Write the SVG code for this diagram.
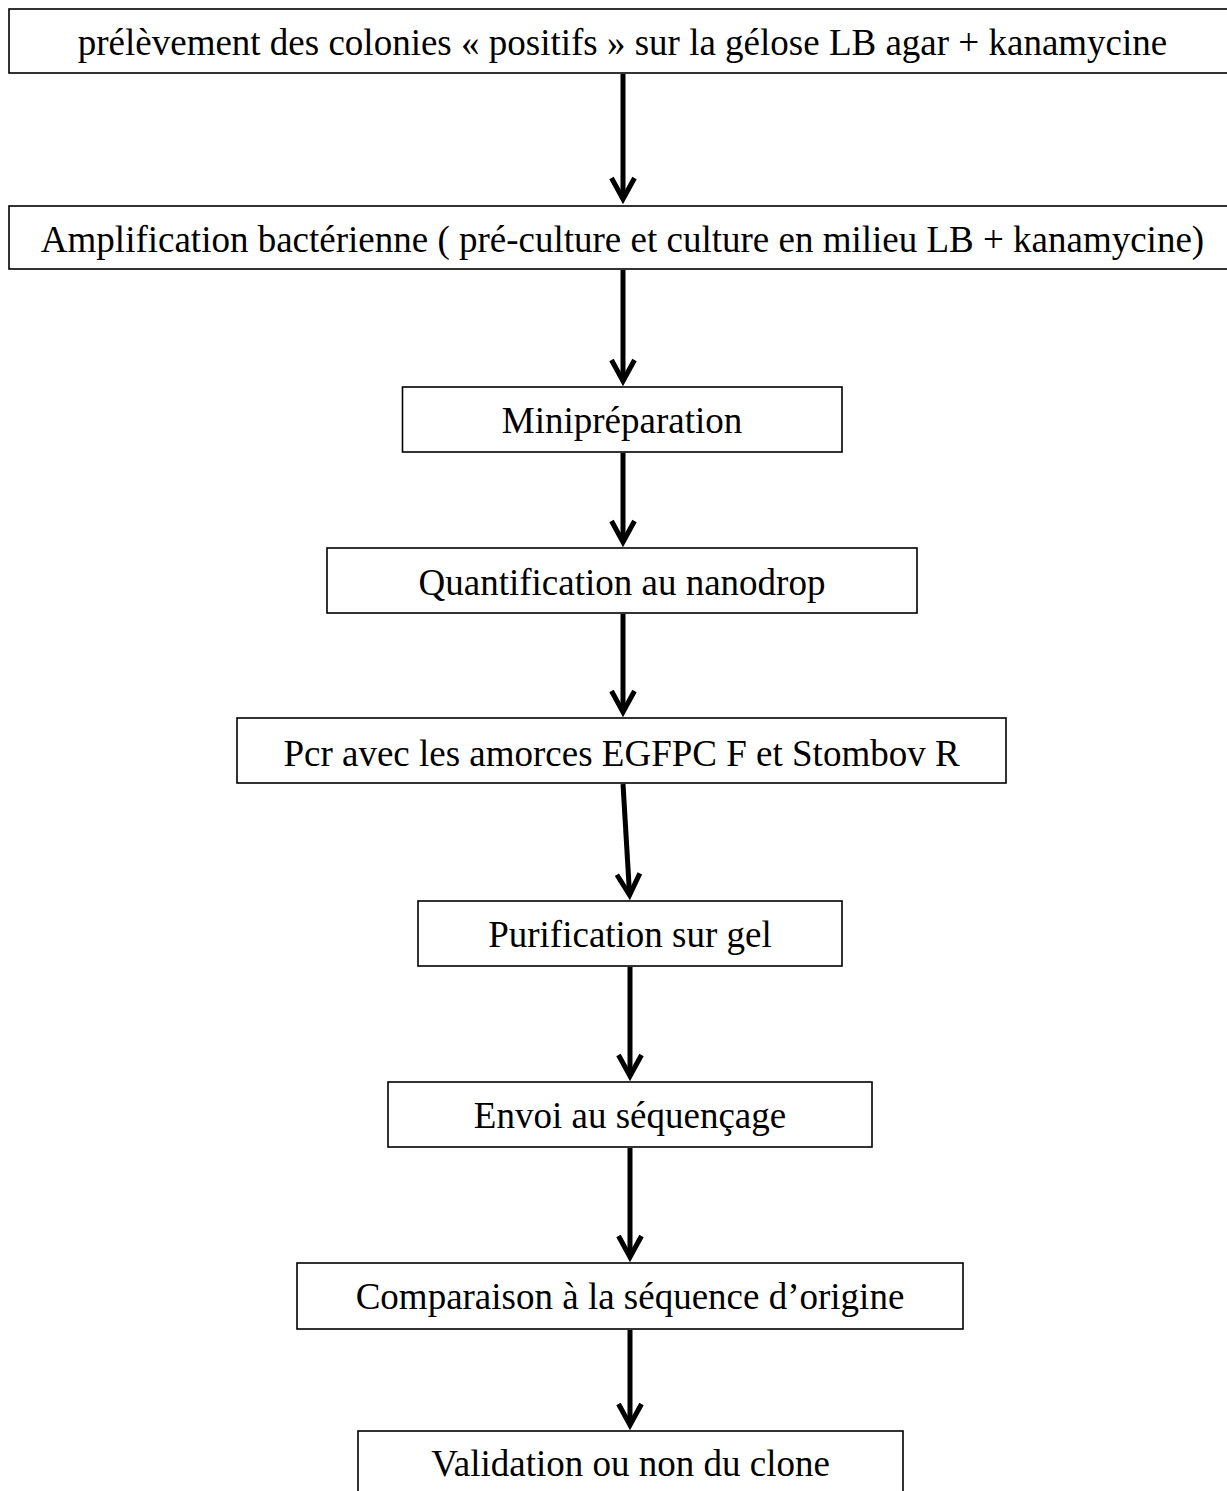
<svg xmlns="http://www.w3.org/2000/svg" width="1227" height="1491" viewBox="0 0 1227 1491">
<style>
.box{fill:#fff;stroke:#000;stroke-width:1.6}
.lbl{font-family:"Liberation Serif","Times New Roman",serif;font-size:37px;fill:#000;text-anchor:middle}
.conn{stroke:#000;stroke-width:5;fill:none;marker-end:url(#arr)}
</style>
<defs>
<marker id="arr" markerUnits="userSpaceOnUse" viewBox="-30 -16 42 32" markerWidth="42" markerHeight="32" refX="0" refY="0" orient="auto" overflow="visible">
<path d="M-21,-11.5 L0,0 L-21,11.5" fill="none" stroke="#000" stroke-width="5"/>
</marker>
</defs>
<rect width="1227" height="1491" fill="#fff"/>
<g id="n1"><rect class="box" x="9" y="9" width="1240" height="64"/><text class="lbl" x="622.5" y="55">prélèvement des colonies « positifs » sur la gélose LB agar + kanamycine</text></g>
<g id="n2"><rect class="box" x="9" y="206" width="1240" height="63"/><text class="lbl" x="622.5" y="252">Amplification bactérienne ( pré-culture et culture en milieu LB + kanamycine)</text></g>
<g id="n3"><rect class="box" x="402.5" y="387" width="439.5" height="65"/><text class="lbl" x="622" y="433">Minipréparation</text></g>
<g id="n4"><rect class="box" x="327" y="548" width="590" height="65"/><text class="lbl" x="622" y="595">Quantification au nanodrop</text></g>
<g id="n5"><rect class="box" x="237" y="718" width="769" height="65"/><text class="lbl" x="621.5" y="766">Pcr avec les amorces EGFPC F et Stombov R</text></g>
<g id="n6"><rect class="box" x="418" y="901" width="424" height="65"/><text class="lbl" x="630" y="947">Purification sur gel</text></g>
<g id="n7"><rect class="box" x="388" y="1082" width="484" height="65"/><text class="lbl" x="630" y="1128">Envoi au séquençage</text></g>
<g id="n8"><rect class="box" x="297" y="1263" width="666" height="66"/><text class="lbl" x="630" y="1309">Comparaison à la séquence d’origine</text></g>
<g id="n9"><rect class="box" x="358" y="1431" width="545" height="66"/><text class="lbl" x="630.5" y="1476">Validation ou non du clone</text></g>
<g id="connectors">
<line class="conn" x1="623" y1="74" x2="623" y2="199"/>
<line class="conn" x1="623" y1="270" x2="623" y2="381"/>
<line class="conn" x1="623" y1="453" x2="623" y2="542"/>
<line class="conn" x1="623" y1="614" x2="623" y2="712"/>
<line class="conn" x1="623" y1="784" x2="629.6" y2="895"/>
<line class="conn" x1="630" y1="967" x2="630" y2="1076"/>
<line class="conn" x1="630" y1="1148" x2="630" y2="1257"/>
<line class="conn" x1="630" y1="1330" x2="630" y2="1425"/>
</g>
</svg>
